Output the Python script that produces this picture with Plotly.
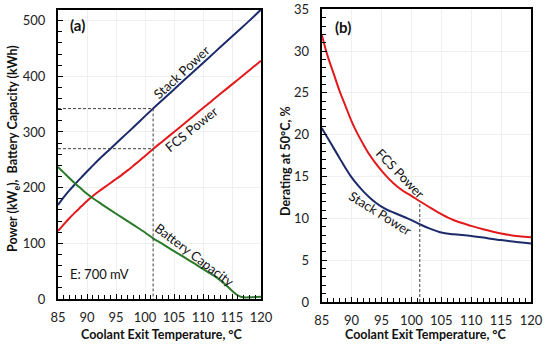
import plotly.graph_objects as go

# ---------------- data (panel a) ----------------
temp_stack_a = [85, 86, 87, 88, 89, 90, 91, 92, 94, 96, 98, 100, 102, 104, 106, 108, 110, 112, 114, 116, 118, 120]
stack_power_a = [169, 183, 195.5, 207, 218, 229, 239.5, 250, 269.5, 289, 308.5, 328.5, 348, 367, 386, 405, 424, 443, 462, 481, 500, 520]

temp_fcs_a = [85, 86, 87, 88, 89, 90, 91, 92, 93, 94, 95, 96, 97, 98, 99, 100, 101.4, 103, 105, 107, 110, 112, 114, 116, 118, 120]
fcs_power_a = [122, 134, 145.5, 156, 166, 176, 185, 193, 200.5, 208, 215.5, 223, 231, 239.5, 248, 257, 269.5, 283, 300, 317, 343, 360, 377, 394, 411, 428]

temp_batt = [85, 86, 87, 88, 89, 90, 91, 92, 94, 96, 98, 100, 101.4, 103, 105, 107, 109, 111, 112, 113, 114, 115, 115.5, 116, 116.5, 117, 118, 119, 120]
battery_capacity = [237, 227, 217, 207, 198, 189, 181, 174, 160, 146.5, 133, 119.5, 109, 99, 86, 73.5, 60.5, 47.5, 41, 33.5, 24.5, 15, 10.5, 6.5, 4, 3, 3, 3.5, 4]

# reference operating point
ref_temp = 101.4
ref_stack = 342
ref_fcs = 270
ref_derate = 12.0

# ---------------- data (panel b) ----------------
temp_b = [85, 86, 87, 88, 89, 90, 91, 92, 93, 94, 95, 96, 97, 98, 99, 100, 101.4, 103, 105, 107, 110, 112, 115, 118, 120]
fcs_derating = [32.0, 29.4, 27.3, 25.2, 23.4, 21.6, 20.1, 18.8, 17.6, 16.6, 15.7, 14.9, 14.2, 13.6, 13.1, 12.7, 12.05, 11.35, 10.5, 9.8, 9.1, 8.7, 8.2, 7.85, 7.75]
stack_derating = [20.8, 19.6, 18.4, 17.2, 16.0, 14.9, 14.0, 13.2, 12.5, 11.9, 11.4, 11.0, 10.7, 10.4, 10.1, 9.8, 9.3, 8.8, 8.3, 8.1, 7.9, 7.7, 7.4, 7.15, 7.0]

x_ticks = [85, 90, 95, 100, 105, 110, 115, 120]

BLUE = "#1c2a6c"
RED = "#e3191b"
GREEN = "#2a7a2a"
DASH = "#404040"
FONT = "Lato"

fig = go.Figure()

# panel a
fig.add_trace(go.Scatter(x=temp_stack_a, y=stack_power_a, mode="lines", line=dict(color=BLUE, width=2, shape="spline"), xaxis="x", yaxis="y"))
fig.add_trace(go.Scatter(x=temp_fcs_a, y=fcs_power_a, mode="lines", line=dict(color=RED, width=2, shape="spline"), xaxis="x", yaxis="y"))
fig.add_trace(go.Scatter(x=temp_batt, y=battery_capacity, mode="lines", line=dict(color=GREEN, width=2, shape="spline"), xaxis="x", yaxis="y"))
# dashed guide lines
fig.add_trace(go.Scatter(x=[85, ref_temp, ref_temp], y=[ref_stack, ref_stack, 0], mode="lines", line=dict(color=DASH, width=1, dash="3px,2px"), xaxis="x", yaxis="y"))
fig.add_trace(go.Scatter(x=[85, ref_temp], y=[ref_fcs, ref_fcs], mode="lines", line=dict(color=DASH, width=1, dash="3px,2px"), xaxis="x", yaxis="y"))

# panel b
fig.add_trace(go.Scatter(x=temp_b, y=fcs_derating, mode="lines", line=dict(color=RED, width=2, shape="spline"), xaxis="x2", yaxis="y2"))
fig.add_trace(go.Scatter(x=temp_b, y=stack_derating, mode="lines", line=dict(color=BLUE, width=2, shape="spline"), xaxis="x2", yaxis="y2"))
fig.add_trace(go.Scatter(x=[ref_temp, ref_temp], y=[0, ref_derate], mode="lines", line=dict(color=DASH, width=1, dash="3px,2px"), xaxis="x2", yaxis="y2"))

common = dict(
    showline=True, linecolor="black", linewidth=2, mirror=True, automargin=False,
    ticks="inside", ticklen=5, tickcolor="black", tickwidth=1,
    showgrid=True, gridcolor="#efefef", gridwidth=1, zeroline=False,
    tickfont=dict(family=FONT, size=13, color="#222"),
)
minor_style = dict(ticks="inside", ticklen=4, tickcolor="black", showgrid=False)

fig.update_layout(
    width=550, height=348,
    margin=dict(l=0, r=0, t=0, b=0),
    paper_bgcolor="white", plot_bgcolor="white",
    showlegend=False,
    font=dict(family=FONT, color="#111"),
    xaxis=dict(domain=[58 / 550, 261 / 550], range=[85, 120], tickvals=x_ticks, anchor="y",
               minor=dict(dtick=1, **minor_style), ticklabelstandoff=5, **common),
    yaxis=dict(domain=[(348 - 299) / 348, (348 - 9.5) / 348], range=[0, 520], dtick=100, anchor="x",
               minor=dict(dtick=20, **minor_style), ticklabelstandoff=8, **common),
    xaxis2=dict(domain=[321.7 / 550, 531 / 550], range=[85, 120], tickvals=x_ticks, anchor="y2",
                minor=dict(dtick=1, **minor_style), ticklabelstandoff=5, **common),
    yaxis2=dict(domain=[(348 - 302) / 348, (348 - 9.3) / 348], range=[0, 35], dtick=5, anchor="x2",
                minor=dict(dtick=1, **minor_style), ticklabelstandoff=8, **common),
)

ann = []
def add(text, x, y, xref, yref, size=13, angle=0, bold=False, color="#111"):
    t = f"<b>{text}</b>" if bold else text
    ann.append(dict(text=t, x=x, y=y, xref=xref, yref=yref, showarrow=False, textangle=angle,
                    font=dict(family=FONT, size=size, color=color), xanchor="center", yanchor="middle"))

add("(a)", 88.4, 492, "x", "y", size=15, bold=True)
add("Stack Power", 106.3, 408, "x", "y", size=13, angle=-43)
add("FCS Power", 108, 305, "x", "y", size=13, angle=-39)
add("Battery Capacity", 108.6, 79, "x", "y", size=13, angle=37)
add("E: 700 mV", 92.2, 45, "x", "y", size=13)

add("(b)", 88.6, 32.9, "x2", "y2", size=15, bold=True)
add("FCS Power", 98.1, 15.4, "x2", "y2", size=13, angle=46)
add("Stack Power", 94.75, 10.6, "x2", "y2", size=13, angle=32)

# axis titles
add("Coolant Exit Temperature, °C", 162 / 550, (348 - 334) / 348, "paper", "paper", size=12.5, bold=True)
add("Coolant Exit Temperature, °C", 426 / 550, (348 - 334) / 348, "paper", "paper", size=12.5, bold=True)
add("Power (kW<sub>e</sub>),  Battery Capacity (kWh)", 14 / 550, (348 - 149) / 348, "paper", "paper", size=12.5, angle=-90, bold=True)
add("Derating at 50°C, %", 285 / 550, (348 - 161) / 348, "paper", "paper", size=12.5, angle=-90, bold=True)

fig.update_layout(annotations=ann)
fig.write_html("out.html", config={"displayModeBar": False},
               post_script="document.body.style.margin='0px';document.body.style.overflow='hidden';")
